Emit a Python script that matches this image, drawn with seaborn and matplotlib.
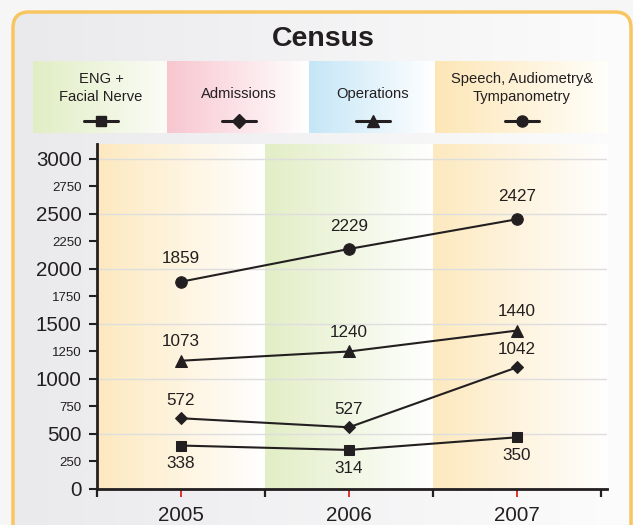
import numpy as np
import pandas as pd
import matplotlib
matplotlib.use("Agg")
import matplotlib.pyplot as plt
import seaborn as sns
from matplotlib import font_manager
from matplotlib.colors import to_rgb
from matplotlib.patches import FancyBboxPatch
from matplotlib.ticker import MultipleLocator, FuncFormatter

# ---- data ----
years = ["2005", "2006", "2007"]
series = ["ENG +\nFacial Nerve", "Admissions", "Operations",
          "Speech, Audiometry&\nTympanometry"]
markers = ["s", "D", "^", "o"]

# where the marks are drawn on the y axis
eng_pos = [395, 355, 470]
adm_pos = [643, 561, 1106]
ops_pos = [1166, 1250, 1440]
speech_pos = [1884, 2182, 2452]

# the numbers printed beside the marks
eng_lab = [338, 314, 350]
adm_lab = [572, 527, 1042]
ops_lab = [1073, 1240, 1440]
speech_lab = [1859, 2229, 2427]

INK = "#231f20"
W, H = 633, 525

sns.set_style("ticks")
plt.rcParams["font.family"] = ["Liberation Sans", "DejaVu Sans"]
names = {f.name for f in font_manager.fontManager.ttflist}
if "Liberation Sans Narrow" in names:
    legend_font, legend_size = ["Liberation Sans Narrow", "Liberation Sans"], 12
else:
    legend_font, legend_size = ["Liberation Sans", "DejaVu Sans"], 10.6


def gradient(c0, c1, n=256):
    a, b = np.array(to_rgb(c0)), np.array(to_rgb(c1))
    t = np.linspace(0, 1, n)[:, None]
    return (a + (b - a) * t)[None, :, :]


fig = plt.figure(figsize=(W / 100, H / 100), dpi=100, facecolor="#f6f6f6")

# ---- background: frame, title, legend strip ----
bg = fig.add_axes([0, 0, 1, 1], zorder=-1)
bg.axis("off")
fill = FancyBboxPatch((13, 12), 618, 540, boxstyle="round,pad=0,rounding_size=16",
                      fc="none", ec="none")
bg.add_patch(fill)
im = bg.imshow(gradient("#eaeaed", "#fcfcfc"), extent=(13, 631, 552, 12), aspect="auto")
im.set_clip_path(fill)
bg.add_patch(FancyBboxPatch((13, 12), 618, 540, boxstyle="round,pad=0,rounding_size=16",
                            fc="none", ec="#f8c660", lw=2.5))

bg.text(323, 39, "Census", fontsize=20.5, fontweight="bold", color=INK,
        ha="center", va="center")

boxes = [(33, 167, "#e1eec4", "#fbfcf7"), (167, 309, "#f8c6cf", "#ffffff"),
         (309, 435, "#c5e6f7", "#ffffff"), (435, 608, "#fde6b6", "#fffffb")]
centers = [101, 239, 373, 522]
marker_px = {"s": 7.5, "D": 7, "^": 8.5, "o": 8}
for (x0, x1, c0, c1), cx, name, m in zip(boxes, centers, series, markers):
    bg.imshow(gradient(c0, c1), extent=(x0, x1, 133, 61), aspect="auto")
    ty = 88 if "\n" in name else 94
    bg.text(cx, ty, name, ha="center", va="center", fontsize=legend_size,
            family=legend_font, color=INK, linespacing=1.45)
    bg.plot([cx - 17, cx + 17], [121, 121], color=INK, lw=2.2)
    bg.plot(cx, 121, marker=m, ms=marker_px[m], color=INK, mec=INK)
bg.set_xlim(0, W)
bg.set_ylim(H, 0)

# ---- main chart ----
ax = fig.add_axes([97 / W, 36 / H, 510 / W, 345 / H])
ax.patch.set_alpha(0)
ymax = 3136
xmax = 2.536

bands = [("#fde9bf", "#ffffff"), ("#e2eec6", "#ffffff"), ("#fde9bf", "#ffffff")]
for i, (c0, c1) in enumerate(bands):
    x1 = i + 0.5 if i < 2 else xmax
    ax.imshow(gradient(c0, c1), extent=(i - 0.5, x1, 0, ymax), aspect="auto", zorder=0)

df = pd.DataFrame({
    "x": np.tile(np.arange(len(years)), len(series)),
    "value": eng_pos + adm_pos + ops_pos + speech_pos,
    "series": np.repeat(series, len(years)),
})
sns.lineplot(data=df, x="x", y="value", hue="series", style="series",
             markers=dict(zip(series, markers)), dashes=False,
             palette=[INK] * 4, linewidth=1.5, markersize=8, mec=INK,
             legend=False, sort=False, ax=ax)
sizes = {"s": 7, "D": 6.5, "^": 8, "o": 8.3}
for ln in ax.lines:
    m = ln.get_marker()
    if m in sizes:
        ln.set_markersize(sizes[m])
        ln.set_markeredgecolor(INK)

labels = [eng_lab, adm_lab, ops_lab, speech_lab]
positions = [eng_pos, adm_pos, ops_pos, speech_pos]
offsets = [-13, 13, 14, 16.5]
for pos, lab, off in zip(positions, labels, offsets):
    for i, (v, t) in enumerate(zip(pos, lab)):
        ax.annotate(str(t), (i, v), xytext=(0, off), textcoords="offset points",
                    ha="center", va="center", fontsize=12.3, color=INK)

ax.set_xlim(-0.5, xmax)
ax.set_ylim(0, ymax)
ax.set_xlabel("")
ax.set_ylabel("")

ax.yaxis.set_major_locator(MultipleLocator(500))
ax.yaxis.set_minor_locator(MultipleLocator(250))
ax.yaxis.set_minor_formatter(FuncFormatter(lambda v, p: f"{v:.0f}"))
ax.tick_params(axis="y", which="both", direction="out", length=6, width=1.5,
               color=INK, labelcolor=INK, pad=5)
ax.tick_params(axis="y", which="major", labelsize=14.8)
ax.tick_params(axis="y", which="minor", labelsize=9.5)

ax.set_xticks(range(len(years)))
ax.set_xticklabels(years)
ax.set_xticks([-0.5, 0.5, 1.5, 2.5], minor=True)
ax.tick_params(axis="x", which="major", direction="out", length=6, width=1.3,
               color="#e2231a", labelsize=14.8, labelcolor=INK, pad=6)
ax.tick_params(axis="x", which="minor", direction="out", length=6, width=1.6, color=INK)

ax.yaxis.grid(True, which="major", color="#dedede", lw=1)
ax.xaxis.grid(False)
sns.despine(ax=ax)
for s in ["left", "bottom"]:
    ax.spines[s].set_linewidth(2)
    ax.spines[s].set_color(INK)

fig.savefig("out.png", dpi=100, facecolor=fig.get_facecolor())
